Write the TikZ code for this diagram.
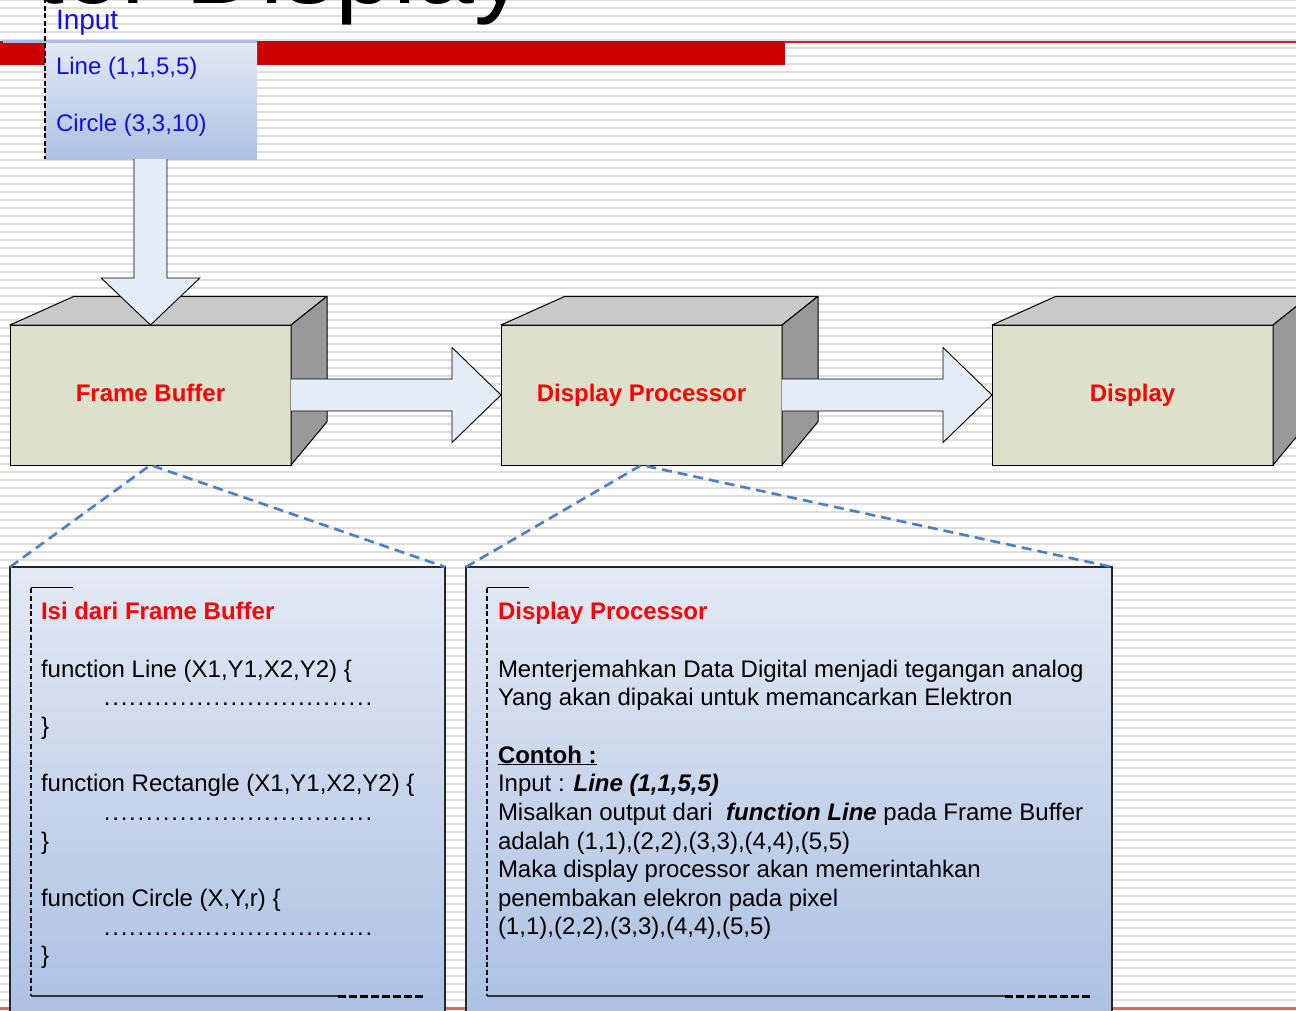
\documentclass[tikz,border=0pt]{standalone}
\usepackage{fontspec}
\setmainfont{Liberation Sans}
\usetikzlibrary{calc}
\definecolor{frontc}{HTML}{DDE0CB}
\definecolor{topc}{HTML}{C9C9C9}
\definecolor{sidec}{HTML}{999999}
\definecolor{arrowc}{HTML}{E4ECF7}
\definecolor{boxtop}{HTML}{E3E9F4}
\definecolor{boxbot}{HTML}{A8BEE2}
\definecolor{boxedge}{HTML}{262626}
\definecolor{dashblue}{HTML}{4A7EC6}
\definecolor{redbar}{HTML}{CC0000}
\definecolor{redline}{HTML}{D42020}
\definecolor{redbottom}{HTML}{E06666}
\definecolor{inblue}{HTML}{1010E8}
\definecolor{labred}{HTML}{FF0000}
\definecolor{stripec}{HTML}{DEDEDE}
\definecolor{inlinec}{HTML}{A9BDE0}
\newcommand\dotrow{\hbox to 270pt{\xleaders\hbox to 8.4pt{\hss.\hss}\hfill}}
\begin{document}
\begin{tikzpicture}[x=1pt,y=-1pt,
  front/.style={draw=black, fill=frontc, line width=1pt, minimum width=281pt, minimum height=140pt,
    inner sep=0pt, outer sep=0pt, text=labred, font=\fontsize{24}{28}\selectfont\bfseries,
    text height=17.5pt, text depth=4pt},
  face/.style={draw=black, line width=1pt, line join=round},
  blockarrow/.style={draw=black, line width=0.9pt, fill=arrowc, line join=miter},
  lowbox/.style={draw=boxedge, line width=1.6pt, top color=boxtop, bottom color=boxbot,
    minimum width=#1, minimum height=480pt, inner sep=0pt, outer sep=0pt},
  txt/.style={anchor=base west, inner sep=0pt, outer sep=0pt, font=\fontsize{24}{28}\selectfont},
  txtred/.style={txt, text=labred, font=\fontsize{24}{28}\selectfont\bfseries},
  bluedash/.style={dashblue, line width=2.6pt, dash pattern=on 10pt off 6pt},
  vbracket/.style={black, line width=2.4pt, dash pattern=on 5pt off 2.8pt},
  hbracket/.style={black, line width=3pt, dash pattern=on 8pt off 3pt},
  thinrule/.style={black!80, line width=1.2pt}
]
\useasboundingbox (0,0) rectangle (1296,1010);
\clip (0,0) rectangle (1296,1010);
% background stripes
\fill[white] (0,0) rectangle (1296,1010);
\foreach \k in {0,...,126} {\fill[stripec] (0,{8*\k-1.2}) rectangle (1296,{8*\k+0.8});}
% title (cut off)
\node[anchor=base west, inner sep=0pt, font=\fontsize{104}{110}\selectfont] (title) at (35,3) {tor Display};
% red bars
\fill[redbar] (0,40.7) rectangle (785,65);
\draw[redline, line width=2pt] (785,41.7) -- (1296,41.7);
\draw[redbottom, line width=3pt] (0,1008.5) -- (1296,1008.5);
% input box
\node[top color=boxtop, bottom color={rgb,255:red,173;green,193;blue,227}, minimum width=212pt, minimum height=116.3pt,
  inner sep=0pt, outer sep=0pt] (inbox) at (151,100.85) {};
\draw[inlinec, line width=3pt] (3,41) -- (257,41);
\draw[black, line width=2pt, dash pattern=on 5pt off 2.5pt] (45,-2) -- (45,159);
\node[txt, text=inblue, font=\fontsize{28}{30}\selectfont] (inlabel) at (56,29) {Input};
\node[txt, text=inblue] (inline) at (56,74) {Line (1,1,5,5)};
\node[txt, text=inblue] (incircle) at (56,131) {Circle (3,3,10)};
% cuboids: front faces
\node[front] (fb) at (150.5,395) {Frame Buffer};
\node[front] (dp) at (641.5,395) {Display Processor};
\node[front] (ds) at (1132.5,395) {Display};
\foreach \n in {fb,dp,ds} {
  \filldraw[face, fill=topc] (\n.north west) -- ++(64,-28.7) -- ($(\n.north east)+(36,-28.7)$) -- (\n.north east) -- cycle;
  \filldraw[face, fill=sidec] (\n.north east) -- ($(\n.north east)+(36,-28.7)$) -- ($(\n.south east)+(36,-43.3)$) -- (\n.south east) -- cycle;
}
% down arrow
\fill[arrowc] ($(fb.north |- inbox.south)+(-16.5,0)$) -- ($(fb.north)+(-16.5,-47)$) -- ($(fb.north)+(-49.3,-47)$) -- (fb.north)
  -- ($(fb.north)+(49.3,-47)$) -- ($(fb.north)+(16.5,-47)$) -- ($(fb.north |- inbox.south)+(16.5,0)$) -- cycle;
\draw[blockarrow, fill=none] ($(fb.north |- inbox.south)+(-16.5,0)$) -- ($(fb.north)+(-16.5,-47)$) -- ($(fb.north)+(-49.3,-47)$) -- (fb.north)
  -- ($(fb.north)+(49.3,-47)$) -- ($(fb.north)+(16.5,-47)$) -- ($(fb.north |- inbox.south)+(16.5,0)$);
% right arrows
\foreach \a/\b in {fb/dp,dp/ds} {
  \fill[arrowc] ($(\a.east)+(0,-16)$) -- ($(\b.west)+(-49,-16)$) -- ($(\b.west)+(-49,-47.5)$) -- (\b.west)
    -- ($(\b.west)+(-49,47.5)$) -- ($(\b.west)+(-49,16)$) -- ($(\a.east)+(0,16)$) -- cycle;
  \draw[blockarrow, fill=none] ($(\a.east)+(0,-16)$) -- ($(\b.west)+(-49,-16)$) -- ($(\b.west)+(-49,-47.5)$) -- (\b.west)
    -- ($(\b.west)+(-49,47.5)$) -- ($(\b.west)+(-49,16)$) -- ($(\a.east)+(0,16)$);
}
% lower boxes
\node[lowbox=435pt] (lbox) at (227.5,807) {};
\node[lowbox=646pt] (rbox) at (789,807) {};
% zoom lines
\draw[bluedash] (lbox.north west) -- (fb.south) -- (lbox.north east);
\draw[bluedash] (rbox.north west) -- (dp.south) -- (rbox.north east);
% brackets in left box
\draw[black, line width=1pt] (31,587) -- (73,587);
\draw[vbracket] (31,588) -- (31,996);
\draw[thinrule] (31,996) -- (338,996);
\draw[hbracket] (338,996) -- (425,996);
% brackets in right box
\draw[black, line width=1pt] (487,587) -- (529,587);
\draw[vbracket] (487,588) -- (487,996);
\draw[thinrule] (487,996) -- (1005,996);
\draw[hbracket] (1005,996) -- (1091,996);
% left box text
\node[txtred] (l0) at (41,619) {Isi dari Frame Buffer};
\node[txt] (l1) at (41,677) {function Line (X1,Y1,X2,Y2) \{};
\node[txt] (l2) at (103,705.5) {\dotrow};
\node[txt] (l3) at (41,734) {\}};
\node[txt] (l4) at (41,791.5) {function Rectangle (X1,Y1,X2,Y2) \{};
\node[txt] (l5) at (103,820) {\dotrow};
\node[txt] (l6) at (41,849) {\}};
\node[txt] (l7) at (41,906) {function Circle (X,Y,r) \{};
\node[txt] (l8) at (103,935) {\dotrow};
\node[txt] (l9) at (41,963.5) {\}};
% right box text
\node[txtred] (r0) at (498,619) {Display Processor};
\node[txt] (r1) at (498,677) {Menterjemahkan Data Digital menjadi tegangan analog};
\node[txt] (r2) at (498,705.5) {Yang akan dipakai untuk memancarkan Elektron};
\node[txt] (r3) at (498,763) {\underline{\textbf{Contoh :}}};
\node[txt] (r4) at (498,791.5) {Input : \textbf{\textit{Line (1,1,5,5)}}};
\node[txt] (r5) at (498,820) {Misalkan output dari \ \textbf{\textit{function Line}} pada Frame Buffer};
\node[txt] (r6) at (498,849) {adalah (1,1),(2,2),(3,3),(4,4),(5,5)};
\node[txt] (r7) at (498,877.5) {Maka display processor akan memerintahkan};
\node[txt] (r8) at (498,906) {penembakan elekron pada pixel};
\node[txt] (r9) at (498,934.5) {(1,1),(2,2),(3,3),(4,4),(5,5)};
\end{tikzpicture}
\end{document}
